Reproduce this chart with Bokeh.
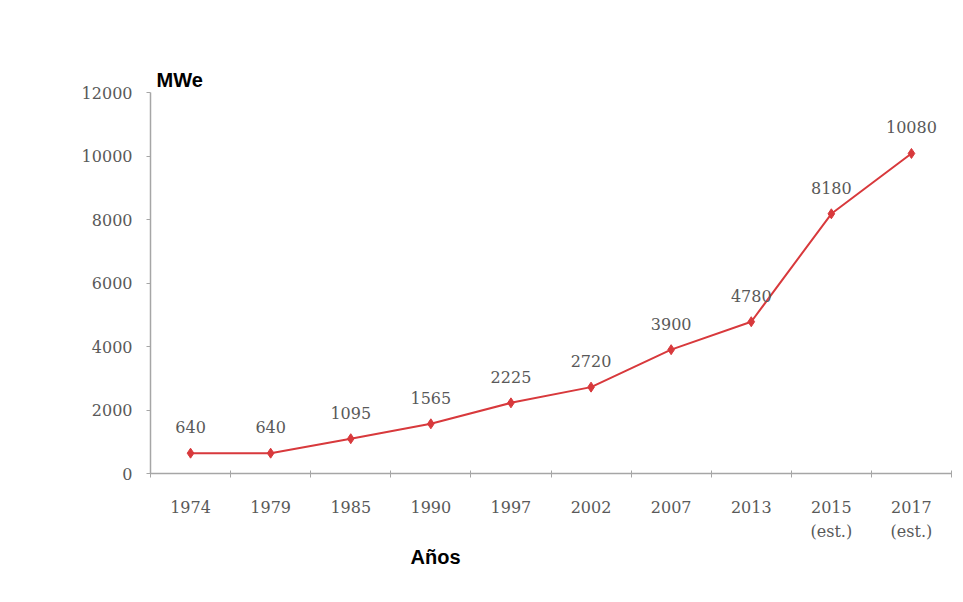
from bokeh.plotting import figure
from bokeh.models import ColumnDataSource, FixedTicker, Title, Range1d
from bokeh.embed import file_html
from bokeh.resources import INLINE

years = ["1974", "1979", "1985", "1990", "1997", "2002", "2007", "2013", "2015\n(est.)", "2017\n(est.)"]
mwe = [640, 640, 1095, 1565, 2225, 2720, 3900, 4780, 8180, 10080]
y_ticks = [0, 2000, 4000, 6000, 8000, 10000, 12000]

xpos = [i + 0.5 for i in range(len(years))]
src = ColumnDataSource(dict(x=xpos, y=mwe, lab=[str(v) for v in mwe]))

p = figure(width=963, height=602, output_backend="svg", toolbar_location=None,
           x_range=Range1d(0, len(years)), y_range=Range1d(0, 12000),
           min_border_left=150, min_border_right=12, min_border_top=92, min_border_bottom=129)
p.background_fill_color = "white"
p.border_fill_color = "white"
p.outline_line_color = None
p.grid.grid_line_color = None

serif = "DejaVu Serif"
gray = "#595959"
red = "#D8393C"
p.line("x", "y", source=src, line_color=red, line_width=2)
p.scatter("x", "y", source=src, marker="diamond", size=10, fill_color=red, line_color=red)
p.text("x", "y", text="lab", source=src, text_align="center", text_baseline="middle",
       y_offset=-26, text_font_size="16px", text_color=gray, text_font={"value": serif})

xa = p.xaxis[0]
xa.ticker = FixedTicker(ticks=xpos, minor_ticks=list(range(len(years) + 1)))
xa.major_label_overrides = {x: y for x, y in zip(xpos, years)}
xa.major_tick_line_color = None
xa.major_tick_in = 0
xa.major_tick_out = 0
xa.minor_tick_line_color = "#a6a6a6"
xa.minor_tick_in = 3
xa.minor_tick_out = 4
xa.axis_line_color = "#a6a6a6"
xa.axis_line_width = 1.5
xa.major_label_standoff = 20
xa.major_label_text_font = serif
xa.major_label_text_font_size = "16px"
xa.major_label_text_color = gray
xa.major_label_text_line_height = 1.3

ya = p.yaxis[0]
ya.ticker = FixedTicker(ticks=y_ticks)
ya.minor_tick_line_color = None
ya.major_tick_line_color = "#a6a6a6"
ya.major_tick_in = 0
ya.major_tick_out = 4
ya.axis_line_color = "#a6a6a6"
ya.axis_line_width = 1.5
ya.major_label_standoff = 14
ya.major_label_text_font = serif
ya.major_label_text_font_size = "16px"
ya.major_label_text_color = gray

p.title.text = "MWe"
p.title.align = "left"
p.title.offset = 6
p.title.standoff = 4
p.title.text_font = "Liberation Sans"
p.title.text_font_style = "bold"
p.title.text_font_size = "20px"
p.title.text_color = "black"

p.add_layout(Title(text="Años", align="left", offset=260, text_font="Liberation Sans",
                   text_font_style="bold", text_font_size="20px", text_color="black",
                   standoff=-2), "below")

open("out.html", "w").write(file_html(p, INLINE))
